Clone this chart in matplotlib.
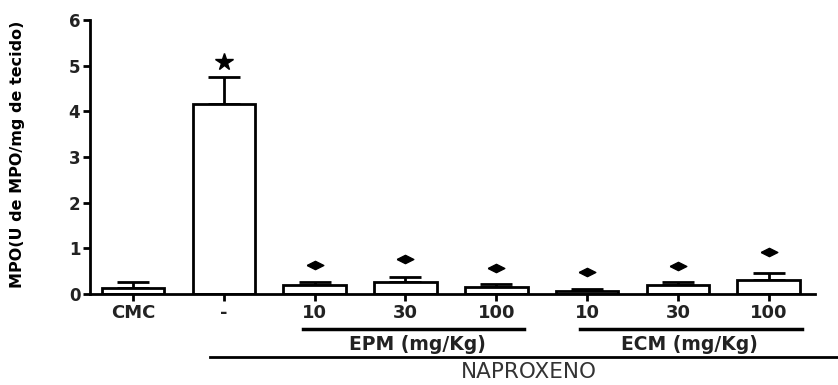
import numpy as np
import matplotlib
matplotlib.use("Agg")
import matplotlib.pyplot as plt
import matplotlib.transforms as mtransforms

plt.rcParams['font.family'] = ['DejaVu Sans']

# data
groups = ['CMC', '-', '10', '30', '100', '10', '30', '100']
means = [0.14, 4.17, 0.20, 0.27, 0.15, 0.07, 0.20, 0.31]
sems = [0.12, 0.59, 0.06, 0.11, 0.07, 0.03, 0.06, 0.15]
mark_y = [None, 5.09, 0.64, 0.77, 0.57, 0.49, 0.62, 0.92]
marks = [None, '*', 'D', 'D', 'D', 'D', 'D', 'D']

xpos = np.arange(len(groups))

fig = plt.figure(figsize=(8.38, 3.85), dpi=100)
ax = fig.add_axes([90 / 838, 1 - 294 / 385, (815 - 90) / 838, (294 - 20) / 385])

ax.bar(xpos, means, width=0.69, color='white', edgecolor='black', linewidth=2, zorder=2)
ax.errorbar(xpos, means, yerr=[np.zeros(len(sems)), sems], fmt='none', ecolor='black',
            elinewidth=2, capsize=11.5, capthick=2, zorder=1)

flat_diamond = [(-1, 0), (0, 0.5), (1, 0), (0, -0.5), (-1, 0)]
for x, y, m in zip(xpos, mark_y, marks):
    if m == '*':
        ax.plot(x, y, marker='*', color='black', markersize=13, clip_on=False)
    elif m == 'D':
        ax.plot(x, y, marker=flat_diamond, color='black', markersize=12)

ax.set_xlim(-0.474, 7.51)
ax.set_ylim(0, 6)
ax.set_yticks(range(7))
ax.set_xticks(xpos)
ax.set_xticklabels(groups, fontweight='bold', fontsize=13)
for lab in ax.get_yticklabels():
    lab.set_fontweight('bold')
    lab.set_fontsize(12)
ax.tick_params(axis='both', width=2, length=5, pad=2, colors='black', labelcolor='#222222')
for s in ['top', 'right']:
    ax.spines[s].set_visible(False)
for s in ['left', 'bottom']:
    ax.spines[s].set_linewidth(2)

ax.set_ylabel('MPO(U de MPO/mg de tecido)', fontweight='bold', fontsize=11.5)
ax.yaxis.set_label_coords(-0.09, 0.51)

# group brackets below the axis
trans = mtransforms.blended_transform_factory(ax.transData, ax.transAxes)
y_sub = -(329 - 294) / 274
y_sub_txt = -(345 - 294) / 274
y_main = -(357 - 294) / 274
y_main_txt = -(372 - 294) / 274

ax.plot([xpos[2] - 0.13, xpos[4] + 0.3], [y_sub, y_sub], color='black', lw=2.5,
        transform=trans, clip_on=False)
ax.plot([xpos[5] - 0.08, xpos[7] + 0.37], [y_sub, y_sub], color='black', lw=2.5,
        transform=trans, clip_on=False)
ax.text(xpos[3] + 0.13, y_sub_txt, 'EPM (mg/Kg)', ha='center', va='center',
        fontweight='bold', fontsize=13.5, color='#222222', transform=trans)
ax.text(xpos[6] + 0.13, y_sub_txt, 'ECM (mg/Kg)', ha='center', va='center',
        fontweight='bold', fontsize=13.5, color='#222222', transform=trans)
ax.plot([xpos[1] - 0.15, 9.0], [y_main, y_main], color='black', lw=2,
        transform=trans, clip_on=False)
ax.text(4.36, y_main_txt, 'NAPROXENO', ha='center', va='center', fontsize=15.5,
        color='#333333', transform=trans)

fig.savefig('out.png', dpi=100)
